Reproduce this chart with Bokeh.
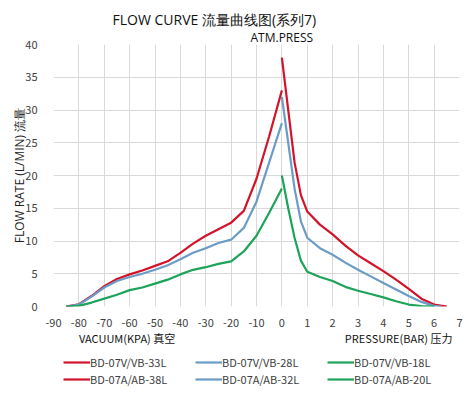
from bokeh.plotting import figure
from bokeh.layouts import column
from bokeh.models import Range1d, Legend, LegendItem, FixedTicker, LinearAxis, Title
from bokeh.embed import file_html
from bokeh.resources import INLINE

# ---- data ----
tick_labels = ["-90", "-80", "-70", "-60", "-50", "-40", "-30", "-20", "-10",
               "0", "1", "2", "3", "4", "5", "6", "7"]

vac_kpa = [-85, -80, -75, -70, -65, -60, -55, -50, -45, -40, -35, -30, -25, -20, -15, -10, -5, 0]
vac_red_33 = [0, 0.35, 1.6, 3.1, 4.2, 4.9, 5.5, 6.2, 6.9, 8.2, 9.6, 10.8, 11.8, 12.8, 14.6, 19.5, 26, 33]
vac_blue_28 = [0, 0.3, 1.5, 2.9, 3.9, 4.5, 5.0, 5.6, 6.3, 7.2, 8.2, 8.9, 9.7, 10.2, 12, 16, 22, 28]
vac_green_18 = [0, 0.1, 0.6, 1.2, 1.8, 2.5, 2.9, 3.5, 4.1, 4.9, 5.6, 6.0, 6.5, 6.9, 8.4, 10.8, 14.3, 18]

pr_red_bar = [0, 0.25, 0.5, 0.75, 1, 1.5, 2, 2.5, 3, 3.5, 4, 4.5, 5, 5.5, 6, 6.5]
pr_red_38 = [38, 30, 22, 17, 14.5, 12.5, 11, 9.3, 7.8, 6.6, 5.4, 4.1, 2.7, 1.2, 0.3, 0]
pr_blue_bar = [0, 0.25, 0.5, 0.75, 1, 1.5, 2, 2.5, 3, 3.5, 4, 4.5, 5, 5.5, 6, 6.3]
pr_blue_32 = [32, 25, 18, 13, 10.5, 8.9, 7.9, 6.7, 5.6, 4.6, 3.6, 2.6, 1.6, 0.7, 0.1, 0]
pr_green_bar = [0, 0.25, 0.5, 0.75, 1, 1.5, 2, 2.5, 3, 3.5, 4, 4.5, 5, 5.5, 6]
pr_green_20 = [20, 15, 10.5, 7, 5.3, 4.5, 3.9, 3.0, 2.4, 1.9, 1.4, 0.8, 0.3, 0.05, 0]

names_v = ["BD-07V/VB-33L", "BD-07V/VB-28L", "BD-07V/VB-18L"]
names_a = ["BD-07A/AB-38L", "BD-07A/AB-32L", "BD-07A/AB-20L"]
side_labels = ["VACUUM(KPA) 真空", "PRESSURE(BAR) 压力"]

RED, BLUE, GREEN = "#D3132A", "#6A9CC6", "#1DA35A"
FONT = "Noto Sans CJK SC"
WFONT = "Open Sans"
TXT = "#404040"


# broken axis: vacuum kPa on the left part, pressure bar on the right part
def vac_pos(vals):
    return [(v + 90) / 10.0 for v in vals]


def pr_pos(vals):
    return [9 + v for v in vals]


p = figure(frame_width=406, frame_height=262, output_backend="svg", toolbar_location=None,
           x_range=Range1d(0, 16), y_range=Range1d(0, 40),
           min_border_left=0, min_border_right=5, min_border_top=40, min_border_bottom=0)
p.margin = (4, 0, 0, 8)
p.outline_line_color = None

# titles (above the frame)
p.title.text = "FLOW CURVE 流量曲线图(系列7)"
p.title.align = "left"
p.title.offset = 59
p.title.text_font = WFONT
p.title.text_font_size = "14px"
p.title.text_font_style = "normal"
p.title.text_color = "#111111"
p.title.standoff = -3
sub = Title(text="ATM.PRESS", align="left", offset=197, text_font=WFONT,
            text_font_size="12px", text_font_style="normal", text_color="#111111",
            standoff=-2)
p.add_layout(sub, "above")

p.xaxis.ticker = FixedTicker(ticks=list(range(len(tick_labels))))
p.xaxis.major_label_overrides = {i: t for i, t in enumerate(tick_labels)}
p.yaxis.ticker = FixedTicker(ticks=[0, 5, 10, 15, 20, 25, 30, 35, 40])

# second bottom axis carrying the two part names
side_pos = [2.9, 13.6]
ax2 = LinearAxis(ticker=FixedTicker(ticks=side_pos),
                 major_label_overrides={side_pos[0]: side_labels[0], side_pos[1]: side_labels[1]})
p.add_layout(ax2, "below")

for ax in (p.xaxis[0], p.yaxis[0], ax2):
    ax.axis_line_color = None
    ax.major_tick_line_color = None
    ax.minor_tick_line_color = None
    ax.major_label_text_font = FONT
    ax.major_label_text_font_size = "11px"
    ax.major_label_text_color = TXT
p.xaxis[0].major_label_standoff = 6
ax2.major_label_standoff = -6
ax2.major_label_text_color = "#111111"
p.yaxis.major_label_standoff = 10
p.yaxis.axis_label = "FLOW RATE (L/MIN) 流量"
p.yaxis.axis_label_text_font = WFONT
p.yaxis.axis_label_text_font_size = "12px"
p.yaxis.axis_label_text_font_style = "normal"
p.yaxis.axis_label_text_color = "#222222"
p.yaxis.axis_label_standoff = -6

p.xgrid.grid_line_color = "#D9D9D9"
p.ygrid.grid_line_color = "#D9D9D9"
p.xgrid.ticker = p.xaxis[0].ticker
p.ygrid.ticker = p.yaxis.ticker

series = [
    (vac_pos(vac_kpa), vac_red_33, RED, names_v[0]),
    (vac_pos(vac_kpa), vac_blue_28, BLUE, names_v[1]),
    (vac_pos(vac_kpa), vac_green_18, GREEN, names_v[2]),
    (pr_pos(pr_red_bar), pr_red_38, RED, names_a[0]),
    (pr_pos(pr_blue_bar), pr_blue_32, BLUE, names_a[1]),
    (pr_pos(pr_green_bar), pr_green_20, GREEN, names_a[2]),
]
for xs, ys, c, _ in series:
    p.line(xs, ys, line_color=c, line_width=2.2)

# legend strip under the chart (same series, drawn out of its view; only the key shows)
lf = figure(width=457, height=44, output_backend="svg", toolbar_location=None,
            x_range=Range1d(100, 101), y_range=Range1d(100, 101),
            min_border_left=0, min_border_right=0, min_border_top=0, min_border_bottom=0)
lf.axis.visible = False
lf.grid.visible = False
lf.outline_line_color = None
items = []
for xs, ys, c, name in series:
    r = lf.line(xs, ys, line_color=c, line_width=2.2)
    items.append(LegendItem(label=name, renderers=[r]))
leg = Legend(items=items, orientation="horizontal", ncols=3, location=(18, 5),
             border_line_color=None, background_fill_alpha=0, padding=0, margin=0,
             glyph_width=27, glyph_height=12, label_height=12, label_width=104,
             label_standoff=0, spacing=1, label_text_font=FONT,
             label_text_font_size="11px", label_text_color=TXT)
lf.add_layout(leg, "center")

open("out.html", "w").write(file_html(column(p, lf, spacing=0), INLINE))
